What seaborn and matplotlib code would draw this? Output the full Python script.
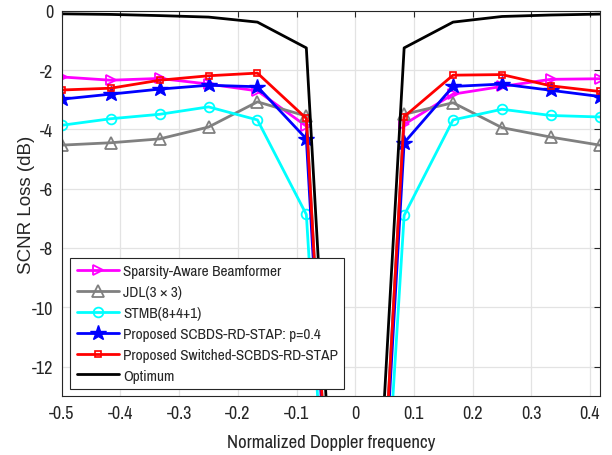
import matplotlib
matplotlib.use("Agg")
import matplotlib.pyplot as plt
import numpy as np
import pandas as pd
import seaborn as sns

# normalized Doppler frequency grid (step 1/12)
doppler = [-6 / 12, -5 / 12, -4 / 12, -3 / 12, -2 / 12, -1 / 12, 0.0,
           1 / 12, 2 / 12, 3 / 12, 4 / 12, 5 / 12]

sparsity_aware = [-2.23, -2.34, -2.28, -2.47, -2.70, -3.89, -33.0,
                  -3.83, -2.81, -2.55, -2.31, -2.29]
jdl = [-4.53, -4.45, -4.32, -3.92, -3.07, -3.55, -33.0,
       -3.49, -3.10, -3.94, -4.26, -4.53]
stmb = [-3.86, -3.64, -3.49, -3.24, -3.68, -6.87, -33.5,
        -6.90, -3.68, -3.32, -3.53, -3.58]
scbds = [-2.98, -2.81, -2.64, -2.51, -2.56, -4.32, -33.0,
         -4.45, -2.55, -2.47, -2.68, -2.89]
switched = [-2.67, -2.61, -2.34, -2.19, -2.10, -3.63, -33.0,
            -3.57, -2.17, -2.15, -2.53, -2.72]
optimum = [-0.10, -0.12, -0.16, -0.21, -0.38, -1.25, -30.5,
           -1.25, -0.38, -0.19, -0.14, -0.11]

labels = [
    "Sparsity-Aware Beamformer",
    "JDL(3 \u00d7 3)",
    "STMB(8+4+1)",
    "Proposed SCBDS-RD-STAP: p=0.4",
    "Proposed Switched-SCBDS-RD-STAP",
    "Optimum",
]

sns.set_style("white")
narrow = ["Liberation Sans Narrow", "Arimo Narrow", "Archivo Narrow",
          "PT Sans Narrow", "Roboto Condensed", "Liberation Sans", "DejaVu Sans"]
plt.rcParams["font.family"] = narrow
plt.rcParams["axes.unicode_minus"] = False

df = pd.DataFrame({
    "doppler": doppler * 6,
    "loss": sparsity_aware + jdl + stmb + scbds + switched + optimum,
    "method": np.repeat(labels, len(doppler)),
})

styles = {
    labels[0]: dict(color=(1, 0, 1), marker=">", ms=7.5, mfc="none", mew=1.3),
    labels[1]: dict(color=(0.5, 0.5, 0.5), marker="^", ms=8, mfc="none", mew=1.3),
    labels[2]: dict(color=(0, 1, 1), marker="o", ms=7, mfc="none", mew=1.3),
    labels[3]: dict(color=(0, 0, 1), marker="*", ms=11.5, mfc=(0, 0, 1), mew=1),
    labels[4]: dict(color=(1, 0, 0), marker="s", ms=5, mfc="none", mew=1.2),
    labels[5]: dict(color="black", marker=None),
}

fig = plt.figure(figsize=(6.12, 4.56), dpi=100)
ax = fig.add_axes([0.101, 0.129, 0.879, 0.845])

for name in labels:
    st = styles[name]
    sub = df[df["method"] == name]
    sns.lineplot(data=sub, x="doppler", y="loss", ax=ax, label=name,
                 color=st["color"], lw=2.0, marker=st["marker"],
                 markersize=st.get("ms", 6), markerfacecolor=st.get("mfc", "none"),
                 markeredgecolor=st["color"], markeredgewidth=st.get("mew", 1),
                 estimator=None, sort=False)

ax.set_xlim(-0.5, 5 / 12)
ax.set_ylim(-13, 0)
ax.set_xticks(np.round(np.arange(-0.5, 0.41, 0.1), 1))
ax.set_xticklabels(["-0.5", "-0.4", "-0.3", "-0.2", "-0.1", "0", "0.1", "0.2", "0.3", "0.4"])
ax.set_yticks([0, -2, -4, -6, -8, -10, -12])
ax.set_yticklabels(["0", "-2", "-4", "-6", "-8", "-10", "-12"])
ax.grid(True, color="#e3e3e3", lw=0.9)
ax.tick_params(direction="in", top=True, right=True, labelsize=13, length=4,
               width=0.8, color="#262626", labelcolor="#262626", pad=6)
for sp in ax.spines.values():
    sp.set_color("#262626")
    sp.set_linewidth(0.8)
ax.set_xlabel("Normalized Doppler frequency", fontsize=13.5, color="#262626", labelpad=10)
ax.set_ylabel("SCNR Loss (dB)", fontsize=13.5, color="#262626", labelpad=-2,
              family=["Liberation Sans", "DejaVu Sans"])

leg = ax.legend(loc="lower left", bbox_to_anchor=(0.016, 0.019), borderaxespad=0,
                fontsize=11, frameon=True, fancybox=False, edgecolor="#262626",
                framealpha=1, handlelength=2.75, labelspacing=0.45,
                handletextpad=0.3, borderpad=0.4)
leg.get_frame().set_linewidth(0.8)

fig.savefig("out.png", dpi=100)
